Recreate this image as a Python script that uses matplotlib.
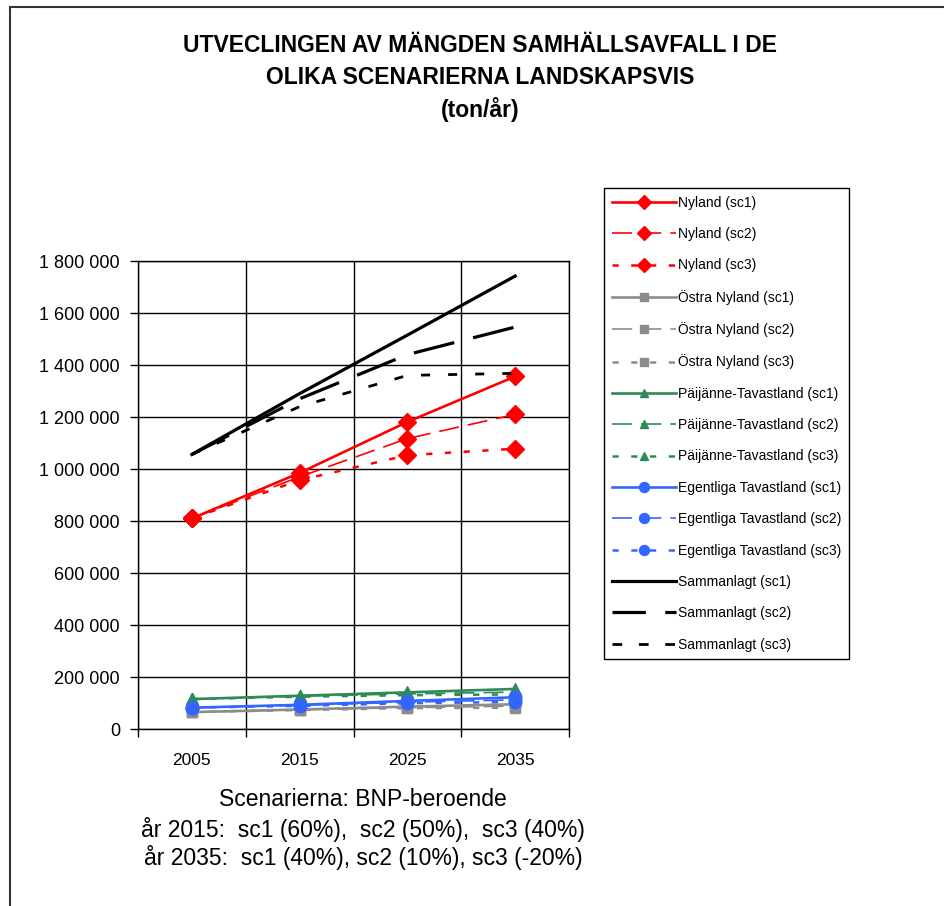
import matplotlib
matplotlib.use('Agg')
import matplotlib.pyplot as plt
from matplotlib.lines import Line2D
from matplotlib.patches import Rectangle
from matplotlib.ticker import FuncFormatter, FixedLocator

# ---------------- data ----------------
years = ['2005', '2015', '2025', '2035']

nyland_sc1 = [810000, 985000, 1181000, 1356000]
nyland_sc2 = [810000, 970000, 1117000, 1210000]
nyland_sc3 = [810000, 957000, 1053000, 1078000]

ostra_sc1 = [65000, 75000, 86000, 95000]
ostra_sc2 = [65000, 74000, 82000, 88000]
ostra_sc3 = [65000, 73000, 80000, 82000]

paij_sc1 = [115000, 128000, 141000, 154000]
paij_sc2 = [115000, 126000, 135000, 142000]
paij_sc3 = [115000, 124000, 130000, 133000]

egent_sc1 = [82000, 93000, 108000, 122000]
egent_sc2 = [82000, 91000, 103000, 112000]
egent_sc3 = [82000, 89000, 99000, 104000]

samman_sc1 = [1056000, 1290000, 1515000, 1742000]
samman_sc2 = [1056000, 1270000, 1440000, 1546000]
samman_sc3 = [1056000, 1240000, 1360000, 1368000]

y_ticks = [0, 200000, 400000, 600000, 800000, 1000000, 1200000, 1400000, 1600000, 1800000]

title_lines = ["UTVECLINGEN AV MÄNGDEN SAMHÄLLSAVFALL I DE",
               "OLIKA SCENARIERNA LANDSKAPSVIS",
               "(ton/år)"]
footnote = ["Scenarierna: BNP-beroende",
            "år 2015:  sc1 (60%),  sc2 (50%),  sc3 (40%)",
            "år 2035:  sc1 (40%), sc2 (10%), sc3 (-20%)"]

# ---------------- style ----------------
plt.rcParams['lines.scale_dashes'] = False
plt.rcParams['font.family'] = ['Liberation Sans', 'DejaVu Sans']

RED = '#FF0000'
GRAY = '#8C8C8C'
GREEN = '#2E8B57'
BLUE = '#3366FF'
BLACK = '#000000'

LS1 = '-'
LS2 = (0, (14.5, 6.5))
LS3 = (0, (4.5, 9))
LSS2 = (0, (30, 14))
LSS3 = (0, (6.5, 13))

# legend-sample dash variants (short sample needs a different phase)
LEG_LS = {"Sammanlagt (sc2)": (0, (24, 14)), "Sammanlagt (sc3)": (0, (7, 12))}

series = [
    ("Nyland (sc1)", nyland_sc1, RED, 'D', LS1, 1.9, 9),
    ("Nyland (sc2)", nyland_sc2, RED, 'D', LS2, 1.2, 9),
    ("Nyland (sc3)", nyland_sc3, RED, 'D', LS3, 1.8, 9),
    ("Östra Nyland (sc1)", ostra_sc1, GRAY, 's', LS1, 1.9, 7),
    ("Östra Nyland (sc2)", ostra_sc2, GRAY, 's', LS2, 1.2, 7),
    ("Östra Nyland (sc3)", ostra_sc3, GRAY, 's', LS3, 1.8, 7),
    ("Päijänne-Tavastland (sc1)", paij_sc1, GREEN, '^', LS1, 1.9, 8),
    ("Päijänne-Tavastland (sc2)", paij_sc2, GREEN, '^', LS2, 1.2, 8),
    ("Päijänne-Tavastland (sc3)", paij_sc3, GREEN, '^', LS3, 1.8, 8),
    ("Egentliga Tavastland (sc1)", egent_sc1, BLUE, 'o', LS1, 1.9, 9),
    ("Egentliga Tavastland (sc2)", egent_sc2, BLUE, 'o', LS2, 1.2, 9),
    ("Egentliga Tavastland (sc3)", egent_sc3, BLUE, 'o', LS3, 1.8, 9),
    ("Sammanlagt (sc1)", samman_sc1, BLACK, None, LS1, 2.3, 0),
    ("Sammanlagt (sc2)", samman_sc2, BLACK, None, LSS2, 2.3, 0),
    ("Sammanlagt (sc3)", samman_sc3, BLACK, None, LSS3, 2.0, 0),
]

W, H = 945, 906
fig = plt.figure(figsize=(W / 100, H / 100), dpi=100)
fig.patch.set_facecolor('white')

L, R, T, B = 138, 569, 261, 729
ax = fig.add_axes([L / W, 1 - B / H, (R - L) / W, (B - T) / H])

xs = list(range(len(years)))
leg_handles = []
for label, vals, col, mk, ls, lw, ms in series:
    ax.plot(xs, vals, color=col, linestyle=ls, linewidth=lw,
            marker=mk, markersize=ms, markerfacecolor=col,
            markeredgecolor=col, label=label, clip_on=False, zorder=3)
    leg_handles.append(Line2D([], [], color=col, linestyle=LEG_LS.get(label, ls),
                              linewidth=lw, marker=mk, markersize=ms,
                              markerfacecolor=col, markeredgecolor=col, label=label))

ax.set_xlim(-0.5, len(years) - 0.5)
ax.set_ylim(0, 1800000)

ax.xaxis.set_major_locator(FixedLocator([i - 0.5 for i in range(len(years) + 1)]))
ax.xaxis.set_minor_locator(FixedLocator(xs))
ax.set_xticklabels([], minor=False)
ax.set_xticklabels(years, minor=True)
ax.tick_params(axis='x', which='major', direction='out', length=6, width=1, color='black')
ax.tick_params(axis='x', which='minor', length=0, pad=17, labelsize=12.5)

ax.set_yticks(y_ticks)
ax.yaxis.set_major_formatter(FuncFormatter(lambda v, p: f"{int(v):,}".replace(',', ' ')))
ax.tick_params(axis='y', direction='out', length=6, width=1, color='black', pad=7, labelsize=13)

ax.grid(True, which='major', color='black', linewidth=1.0)
ax.set_axisbelow(True)
for s in ax.spines.values():
    s.set_color('black')
    s.set_linewidth(1.0)

# title
for i, line in enumerate(title_lines):
    fig.text(480 / W, 1 - (45 + 32 * i) / H, line, ha='center', va='center',
             fontsize=16.5, fontweight='bold')

# footnote
for i, line in enumerate(footnote):
    fig.text(363 / W, 1 - (800 + 29 * i) / H, line, ha='center', va='center', fontsize=16.5)

# legend
leg = fig.legend(leg_handles, [h.get_label() for h in leg_handles], loc='upper left',
                 bbox_to_anchor=(604 / W, 1 - 188 / H), borderaxespad=0,
                 frameon=True, fancybox=False, framealpha=1, edgecolor='black',
                 prop={'family': ['Liberation Sans Narrow', 'Liberation Sans'], 'size': 10},
                 handlelength=4.6, handletextpad=0.15, labelspacing=1.25,
                 borderpad=0.55, markerscale=0.8, numpoints=1)
leg.get_frame().set_linewidth(1.0)

# outer chart frame
fig.patches.append(Rectangle((10 / W, -0.1), 1.2, 1 - 7 / H + 0.1, transform=fig.transFigure,
                             fill=False, edgecolor='#333333', linewidth=1.5))

fig.savefig('out.png', dpi=100, facecolor='white')
